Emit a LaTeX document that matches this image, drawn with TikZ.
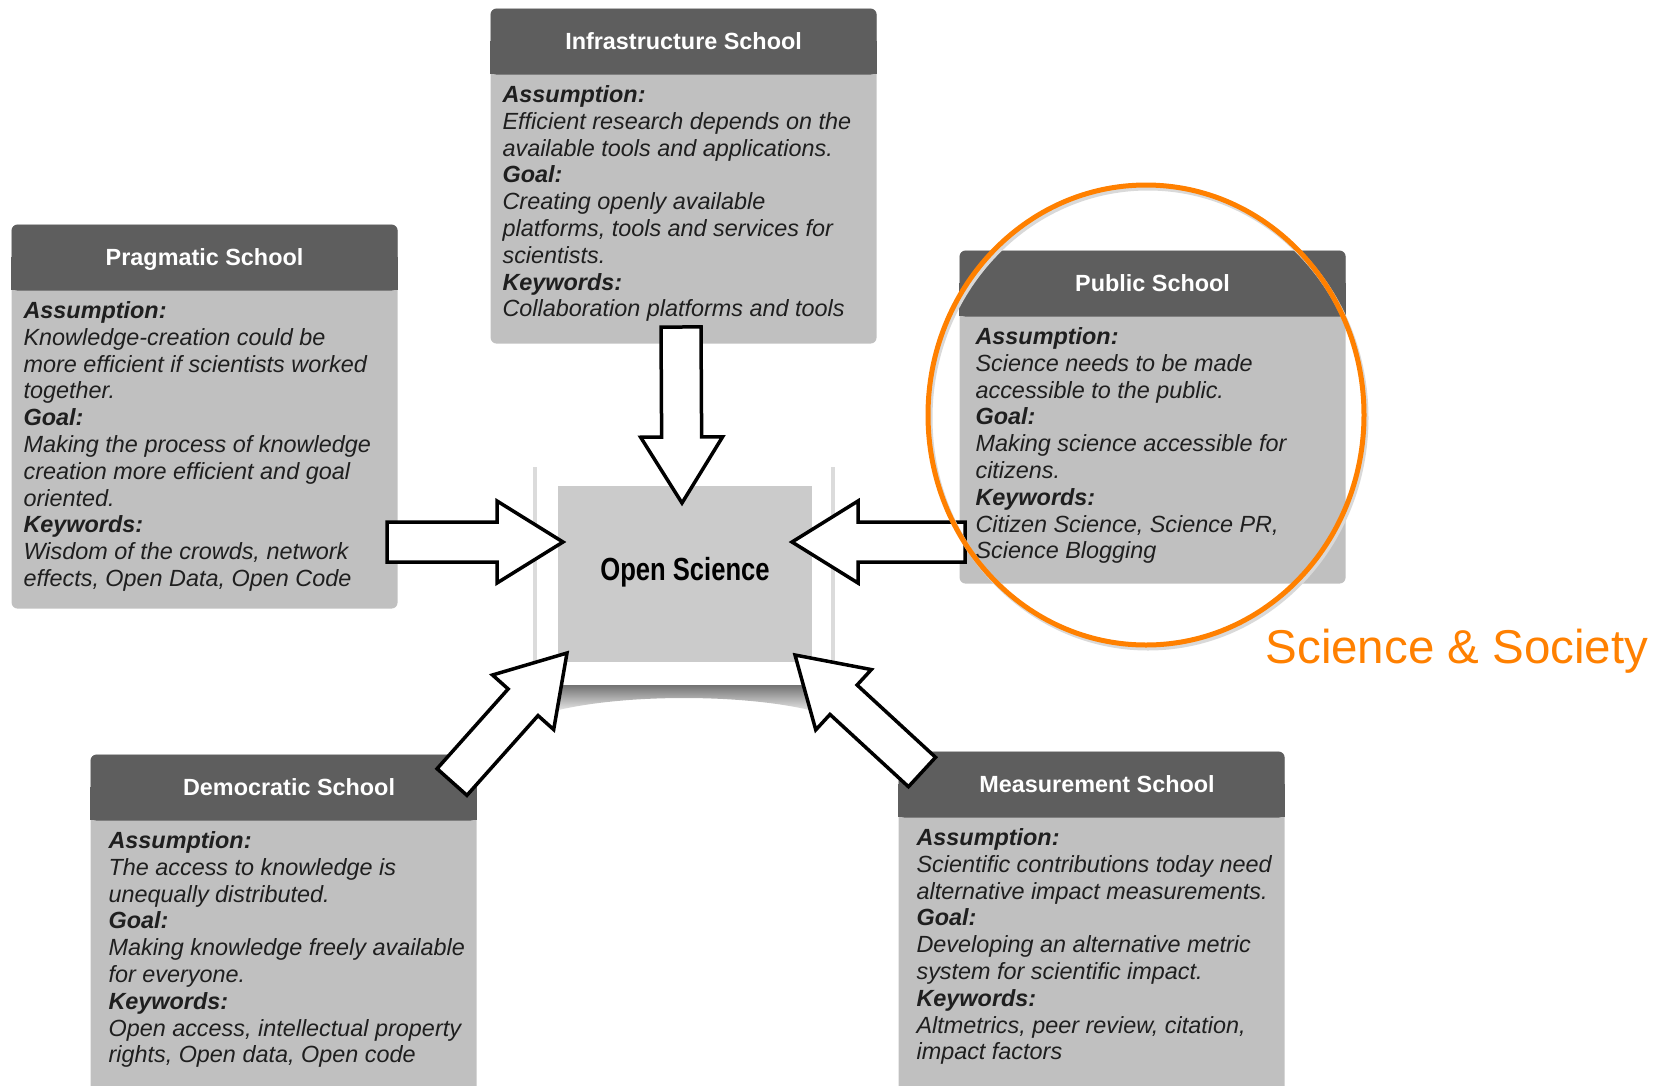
\documentclass[tikz,border=0pt]{standalone}
\usepackage{fontspec}
\setmainfont{Liberation Sans}
\usetikzlibrary{calc}
\definecolor{headgray}{HTML}{5E5E5E}
\definecolor{bodygray}{HTML}{C0C0C0}
\definecolor{centergray}{HTML}{CBCBCB}
\definecolor{ssorange}{HTML}{FF8000}
\begin{document}
\begin{tikzpicture}[x=1pt, y=-1pt, every node/.style={rectangle}, line width=.4mm,
	schoolbody/.style={fill=bodygray, rounded corners=6pt, minimum width=386pt, anchor=north west, inner sep=0pt},
	schoolhead/.style={fill=headgray, rounded corners=6pt, minimum width=386pt, minimum height=66pt, anchor=north west, inner sep=0pt, text=white, text height=16.8pt, text depth=0pt, font=\bfseries\fontsize{23.4}{28}\selectfont},
	schooltext/.style={anchor=north west, align=left, inner sep=0pt, text=black!88, font=\itshape\fontsize{23.4}{26.8}\selectfont},
	blockarrow/.style={draw=black, fill=white, line width=3.5pt, line join=miter}]
	\path[use as bounding box] (0,0) rectangle (1654,1085);
	\clip (0,0) rectangle (1654,1085);
	% schools
	\node[schoolbody, minimum height=335pt] (infraBody) at (490,8) {};
	\fill[headgray] ($(infraBody.north west)+(0,33)$) rectangle ($(infraBody.north east)+(0,66)$);
	\node[schoolhead] (infraHead) at (490,8) {Infrastructure School};
	\node[schooltext] (infraText) at (502,85) {\textbf{Assumption:}\\Efficient research depends on the\\available tools and applications.\\\textbf{Goal:}\\Creating openly available\\platforms, tools and services for\\scientists.\\\textbf{Keywords:}\\Collaboration platforms and tools};
	\node[schoolbody, minimum height=384pt] (pragBody) at (11,224) {};
	\fill[headgray] ($(pragBody.north west)+(0,33)$) rectangle ($(pragBody.north east)+(0,66)$);
	\node[schoolhead] (pragHead) at (11,224) {Pragmatic School};
	\node[schooltext] (pragText) at (23,301) {\textbf{Assumption:}\\Knowledge-creation could be\\more efficient if scientists worked\\together.\\\textbf{Goal:}\\Making the process of knowledge\\creation more efficient and goal\\oriented.\\\textbf{Keywords:}\\Wisdom of the crowds, network\\effects, Open Data, Open Code};
	\node[schoolbody, minimum height=333pt] (publicBody) at (959,250) {};
	\fill[headgray] ($(publicBody.north west)+(0,33)$) rectangle ($(publicBody.north east)+(0,66)$);
	\node[schoolhead] (publicHead) at (959,250) {Public School};
	\node[schooltext] (publicText) at (975,327) {\textbf{Assumption:}\\Science needs to be made\\accessible to the public.\\\textbf{Goal:}\\Making science accessible for\\citizens.\\\textbf{Keywords:}\\Citizen Science, Science PR,\\Science Blogging};
	\node[schoolbody, minimum height=346pt] (demoBody) at (90,754) {};
	\fill[headgray] ($(demoBody.north west)+(0,33)$) rectangle ($(demoBody.north east)+(0,66)$);
	\node[schoolhead] (demoHead) at (90,754) {\hspace*{11pt}Democratic School};
	\node[schooltext] (demoText) at (108,831) {\textbf{Assumption:}\\The access to knowledge is\\unequally distributed.\\\textbf{Goal:}\\Making knowledge freely available\\for everyone.\\\textbf{Keywords:}\\Open access, intellectual property\\rights, Open data, Open code};
	\node[schoolbody, minimum height=349pt] (measBody) at (898,751) {};
	\fill[headgray] ($(measBody.north west)+(0,33)$) rectangle ($(measBody.north east)+(0,66)$);
	\node[schoolhead] (measHead) at (898,751) {\hspace*{11pt}Measurement School};
	\node[schooltext] (measText) at (916,828) {\textbf{Assumption:}\\Scientific contributions today need\\alternative impact measurements.\\\textbf{Goal:}\\Developing an alternative metric\\system for scientific impact.\\\textbf{Keywords:}\\Altmetrics, peer review, citation,\\impact factors};
	% open science sheet
	\draw[black!14, line width=4pt] (535,467) -- (535,685);
	\draw[black!14, line width=4pt] (833,467) -- (833,685);
	\shade[top color=black!55, bottom color=white] (537,685) -- (831,685) -- (831,716) .. controls (760,692) and (608,692) .. (537,716) -- cycle;
	\node[fill=centergray, minimum width=254pt, minimum height=176pt, inner sep=0pt] (open) at (685,574) {};
	\node[font=\bfseries\fontsize{32}{32}\selectfont] (openText) at (685,572) {\scalebox{0.8}[1]{Open Science}};
	% arrows
	\coordinate (infraTail) at (681,327);
	\coordinate (infraTip) at (682,503);
	\coordinate (pragTail) at (387,542);
	\coordinate (pragTip) at (563,542);
	\coordinate (publicTail) at (965,542);
	\coordinate (publicTip) at (792,542);
	\coordinate (demoTail) at (452,782);
	\coordinate (demoTip) at (567,653);
	\coordinate (measTail) at (922,772);
	\coordinate (measTip) at (795,655);
	\foreach \tail/\tip in {infraTail/infraTip, pragTail/pragTip, publicTail/publicTip, demoTail/demoTip, measTail/measTip} {
		\coordinate (\tail-m) at ($(\tip)!66pt!(\tail)$);
		\draw[blockarrow] ($(\tail)!20pt!90:(\tip)$) -- ($(\tail-m)!20pt!90:(\tip)$) -- ($(\tail-m)!41pt!90:(\tip)$) -- (\tip) -- ($(\tail-m)!41pt!-90:(\tip)$) -- ($(\tail-m)!20pt!-90:(\tip)$) -- ($(\tail)!20pt!-90:(\tip)$) -- cycle;
	}
	% focus on public school
	\draw[black!15, line width=5pt] (1148,418) ellipse [x radius=218pt, y radius=230pt];
	\draw[ssorange, line width=5pt] (1146,415) ellipse [x radius=218pt, y radius=230pt];
	\node[anchor=base west, inner sep=0pt, text=ssorange, font=\fontsize{47.5}{50}\selectfont] (society) at (1265,663) {Science \& Society};
\end{tikzpicture}
\end{document}
